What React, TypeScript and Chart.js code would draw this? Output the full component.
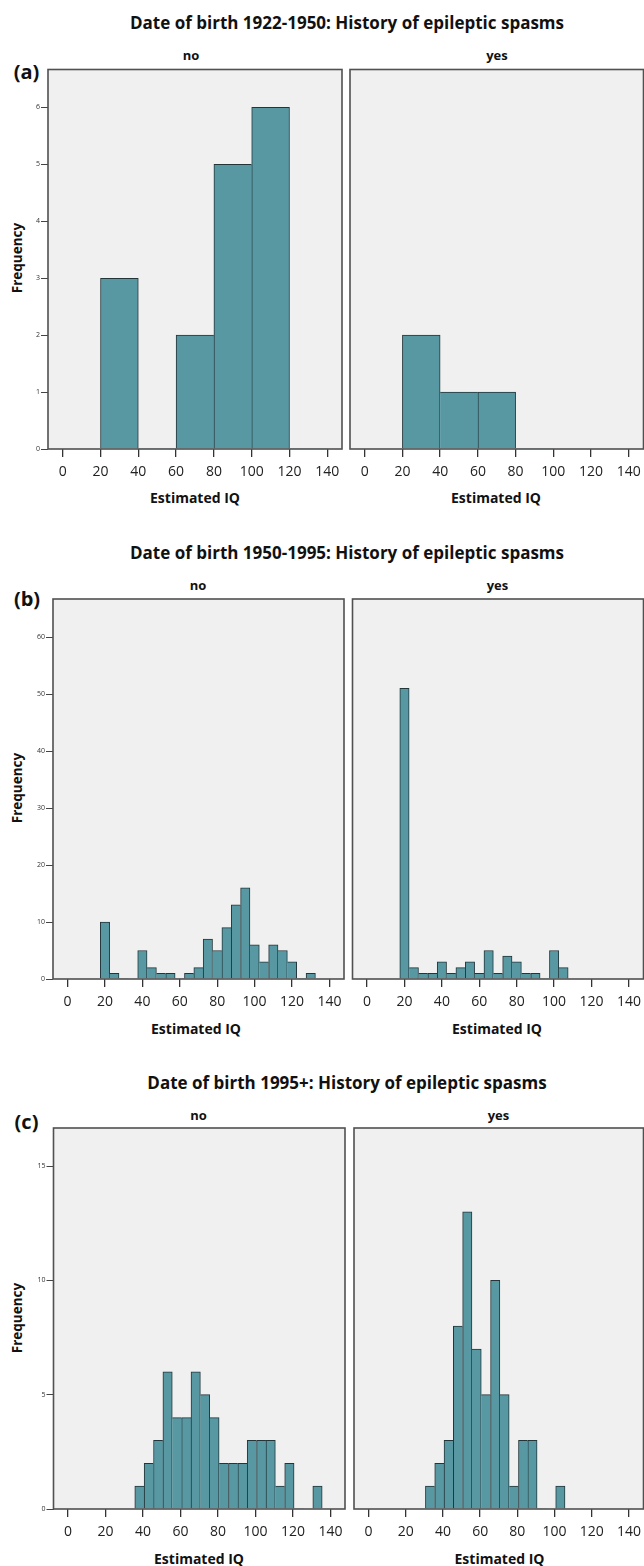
import React, { useEffect, useRef } from 'react';
import { Chart, registerables } from 'chart.js';

Chart.register(...registerables);

// ---------- DATA ----------
const panelTitles = [
  'Date of birth 1922-1950: History of epileptic spasms',
  'Date of birth 1950-1995: History of epileptic spasms',
  'Date of birth 1995+: History of epileptic spasms',
];
const panelTags = ['(a)', '(b)', '(c)'];
const groupLabels = ['no', 'yes'];
const xAxisTitle = 'Estimated IQ';
const yAxisTitle = 'Frequency';
const xTickValues = [0, 20, 40, 60, 80, 100, 120, 140];

// (a) 1922-1950: bins of width 20 starting at 0
const aBinStart = 0;
const aBinWidth = 20;
const aNo = [0, 3, 0, 2, 5, 6, 0];
const aYes = [0, 2, 1, 1, 0, 0, 0];
const aYTicks = [0, 1, 2, 3, 4, 5, 6];

// (b) 1950-1995: bins of width 5 starting at 17.5
const bBinStart = 17.5;
const bBinWidth = 5;
const bNo = [10, 1, 0, 0, 5, 2, 1, 1, 0, 1, 2, 7, 5, 9, 13, 16, 6, 3, 6, 5, 3, 0, 1];
const bYes = [51, 2, 1, 1, 3, 1, 2, 3, 1, 5, 1, 4, 3, 1, 1, 0, 5, 2];
const bYTicks = [0, 10, 20, 30, 40, 50, 60];

// (c) 1995+: bins of width 5 starting at 30.6
const cBinStart = 30.6;
const cBinWidth = 5;
const cNo = [0, 1, 2, 3, 6, 4, 4, 6, 5, 4, 2, 2, 2, 3, 3, 3, 1, 2, 0, 0, 1];
const cYes = [1, 2, 3, 8, 13, 7, 5, 10, 5, 1, 3, 3, 0, 0, 1];
const cYTicks = [0, 5, 10, 15];

// ---------- STYLE ----------
const FONT = "'Open Sans', Lato, 'DejaVu Sans', sans-serif";
const FILL = '#5898a3';
const EDGE = '#22363a';
const PLOT_BG = '#f0f0f0';
const FRAME = '#505050';
const X_PAD = 140 / 18; // 5% padding on each side
const X_MIN = -X_PAD;
const X_MAX = 140 + X_PAD;

type Frame = { l: number; t: number; r: number; b: number };

const framePlugin = {
  id: 'spssFrame',
  beforeDraw(chart: any) {
    const { ctx, chartArea } = chart;
    const { left, top, right, bottom } = chartArea;
    ctx.save();
    ctx.fillStyle = PLOT_BG;
    ctx.fillRect(left, top, right - left, bottom - top);
    ctx.restore();
  },
  afterDatasetsDraw(chart: any) {
    const { ctx, chartArea } = chart;
    const { left, top, right, bottom } = chartArea;
    ctx.save();
    ctx.strokeStyle = FRAME;
    ctx.lineWidth = 1.6;
    ctx.strokeRect(left, top, right - left, bottom - top);
    ctx.restore();
  },
};

type HistProps = {
  frame: Frame;
  binStart: number;
  binWidth: number;
  counts: number[];
  yTicks: number[];
  showY: boolean;
};

function Hist({ frame, binStart, binWidth, counts, yTicks, showY }: HistProps) {
  const ref = useRef<HTMLCanvasElement>(null);
  const cl = Math.floor(frame.l) - 40;
  const ct = Math.floor(frame.t) - 4;
  const cr = Math.min(644, Math.ceil(frame.r) + 4);
  const cb = Math.ceil(frame.b) + 34;
  const W = cr - cl;
  const H = cb - ct;
  const yMax = yTicks[yTicks.length - 1] / 0.9;

  useEffect(() => {
    if (!ref.current) return;
    const chart = new Chart(ref.current, {
      type: 'bar',
      data: {
        datasets: [
          {
            data: counts.map((c, i) => ({ x: binStart + binWidth * (i + 0.5), y: c })),
            backgroundColor: FILL,
            borderColor: EDGE,
            borderWidth: (ctx: any) => {
              const i = ctx.dataIndex;
              const c = counts[i] ?? 0;
              const prev = i > 0 ? counts[i - 1] : 0;
              const next = i < counts.length - 1 ? counts[i + 1] : 0;
              return { top: 1, left: prev <= c ? 1 : 0, right: next < c ? 1 : 0, bottom: 0 };
            },
            borderSkipped: 'start',
            barPercentage: 1,
            categoryPercentage: 1,
          } as any,
        ],
      },
      options: {
        animation: false,
        responsive: false,
        maintainAspectRatio: false,
        layout: { padding: { left: 0, top: frame.t - ct, right: cr - frame.r, bottom: 0 } },
        plugins: {
          legend: { display: false },
          tooltip: { enabled: false },
          title: { display: false },
        },
        scales: {
          x: {
            type: 'linear',
            offset: false,
            min: X_MIN,
            max: X_MAX,
            afterBuildTicks: (s: any) => {
              s.ticks = xTickValues.map((v) => ({ value: v }));
            },
            afterFit: (s: any) => {
              s.height = cb - frame.b;
              s.paddingLeft = 0;
              s.paddingRight = 0;
            },
            grid: {
              offset: false,
              drawOnChartArea: false,
              drawTicks: true,
              tickLength: 8,
              color: '#333',
              lineWidth: 1.3,
            },
            border: { display: false },
            ticks: {
              color: '#222',
              font: { family: FONT, size: 14 },
              padding: 7,
              maxRotation: 0,
              autoSkip: false,
            },
          },
          y: {
            type: 'linear',
            min: 0,
            max: yMax,
            afterBuildTicks: (s: any) => {
              s.ticks = yTicks.map((v) => ({ value: v }));
            },
            afterFit: (s: any) => {
              s.width = frame.l - cl;
              s.paddingTop = 0;
              s.paddingBottom = 0;
            },
            grid: {
              drawOnChartArea: false,
              drawTicks: showY,
              tickLength: 7,
              color: '#444',
              lineWidth: 1,
            },
            border: { display: false },
            ticks: {
              display: showY,
              color: '#333',
              font: { family: FONT, size: 7 },
              padding: 1,
              autoSkip: false,
            },
          },
        },
      } as any,
      plugins: [framePlugin as any],
    });
    return () => chart.destroy();
  }, []);

  return (
    <canvas
      ref={ref}
      width={W}
      height={H}
      style={{ position: 'absolute', left: cl, top: ct, width: W, height: H, display: 'block' }}
    />
  );
}

type TextProps = {
  x: number;
  y: number;
  size: number;
  bold?: boolean;
  rotate?: boolean;
  children: React.ReactNode;
};

function Label({ x, y, size, bold, rotate, children }: TextProps) {
  return (
    <div
      style={{
        position: 'absolute',
        left: x,
        top: y,
        transform: `translate(-50%, -50%)${rotate ? ' rotate(-90deg)' : ''}`,
        fontFamily: FONT,
        fontSize: size,
        fontWeight: bold ? 700 : 400,
        color: '#111',
        whiteSpace: 'nowrap',
        lineHeight: 1,
      }}
    >
      {children}
    </div>
  );
}

type SubLayout = { frame: Frame; labelX: number; axisTitleX: number };
type PanelLayout = {
  titleY: number;
  tagX: number;
  tagY: number;
  groupY: number;
  freqY: number;
  axisTitleY: number;
  subs: SubLayout[];
};

const layouts: PanelLayout[] = [
  {
    titleY: 22,
    tagX: 26.5,
    tagY: 71.5,
    groupY: 55,
    freqY: 258,
    axisTitleY: 498,
    subs: [
      { frame: { l: 48, t: 69.5, r: 342, b: 449 }, labelX: 191, axisTitleX: 195 },
      { frame: { l: 350, t: 69.5, r: 643.5, b: 449 }, labelX: 497, axisTitleX: 496 },
    ],
  },
  {
    titleY: 552,
    tagX: 27,
    tagY: 598.5,
    groupY: 585,
    freqY: 788,
    axisTitleY: 1029,
    subs: [
      { frame: { l: 53, t: 599, r: 344, b: 979 }, labelX: 198, axisTitleX: 196 },
      { frame: { l: 352.5, t: 599, r: 643.5, b: 979 }, labelX: 497.5, axisTitleX: 497 },
    ],
  },
  {
    titleY: 1082,
    tagX: 26.5,
    tagY: 1122,
    groupY: 1115,
    freqY: 1318,
    axisTitleY: 1559,
    subs: [
      { frame: { l: 53.5, t: 1128, r: 345, b: 1509 }, labelX: 198.5, axisTitleX: 199 },
      { frame: { l: 354, t: 1128, r: 643.5, b: 1509 }, labelX: 498.5, axisTitleX: 499.5 },
    ],
  },
];

const panelData = [
  { binStart: aBinStart, binWidth: aBinWidth, series: [aNo, aYes], yTicks: aYTicks },
  { binStart: bBinStart, binWidth: bBinWidth, series: [bNo, bYes], yTicks: bYTicks },
  { binStart: cBinStart, binWidth: cBinWidth, series: [cNo, cYes], yTicks: cYTicks },
];

export default function App() {
  return (
    <div
      style={{
        position: 'absolute',
        left: 0,
        top: 0,
        width: 644,
        height: 1566,
        overflow: 'hidden',
        background: '#fff',
      }}
    >
      {layouts.map((lay, p) => {
        const d = panelData[p];
        return (
          <React.Fragment key={p}>
            <Label x={347} y={lay.titleY} size={17} bold>
              {panelTitles[p]}
            </Label>
            <Label x={lay.tagX} y={lay.tagY} size={20} bold>
              {panelTags[p]}
            </Label>
            <Label x={18} y={lay.freqY} size={13.5} bold rotate>
              {yAxisTitle}
            </Label>
            {lay.subs.map((s, k) => (
              <React.Fragment key={k}>
                <Label x={s.labelX} y={lay.groupY} size={13} bold>
                  {groupLabels[k]}
                </Label>
                <Label x={s.axisTitleX} y={lay.axisTitleY} size={14} bold>
                  {xAxisTitle}
                </Label>
                <Hist
                  frame={s.frame}
                  binStart={d.binStart}
                  binWidth={d.binWidth}
                  counts={d.series[k]}
                  yTicks={d.yTicks}
                  showY={k === 0}
                />
              </React.Fragment>
            ))}
          </React.Fragment>
        );
      })}
    </div>
  );
}
